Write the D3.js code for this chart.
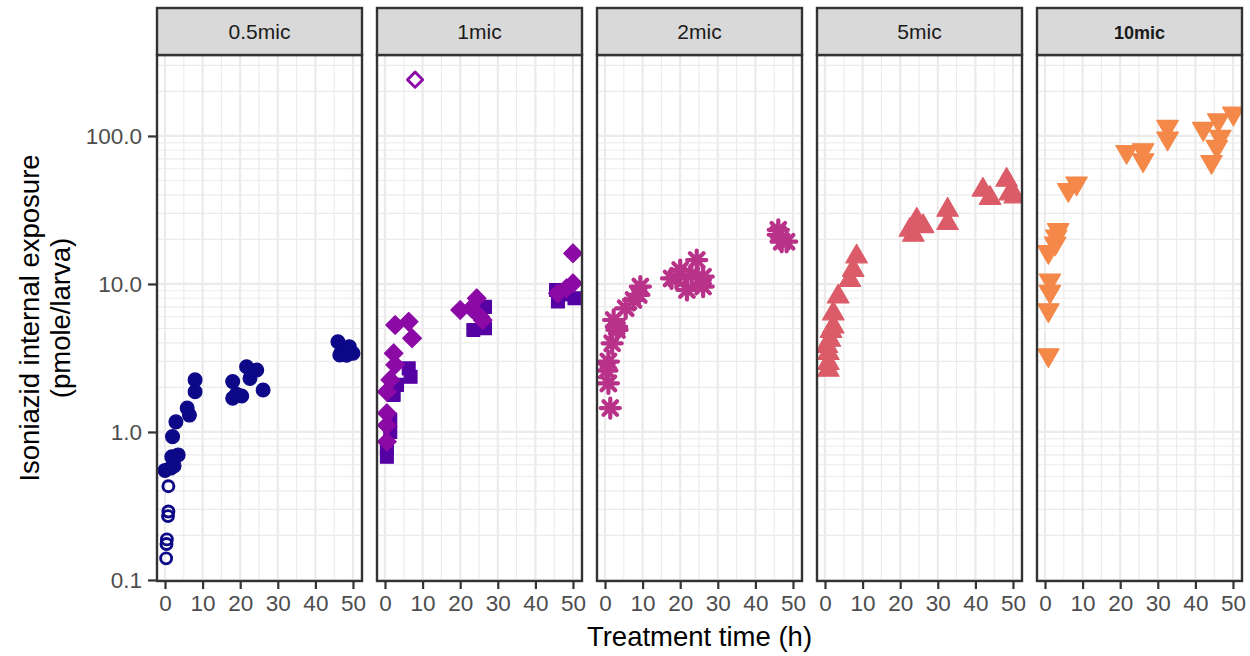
<!DOCTYPE html>
<html>
<head>
<meta charset="utf-8">
<script src="https://cdn.jsdelivr.net/npm/d3@7"></script>
<style>
  body { margin: 0; background: #fff; }
  svg text { font-family: "Liberation Sans", Arial, sans-serif; }
</style>
</head>
<body>
<svg width="1250" height="656"></svg>
<script>
"use strict";
// facet labels and axis ticks
var panelNames = ["0.5mic", "1mic", "2mic", "5mic", "10mic"];
var xTicks = [0, 10, 20, 30, 40, 50];
var yTicks = [0.1, 1, 10, 100];
var yTickLabels = ["0.1", "1.0", "10.0", "100.0"];

// 0.5 mic, circles (open = low values)
var mic05LowTime = [0.3, 0.4, 0.5, 0.8, 0.9, 0.9];
var mic05LowValue = [0.14, 0.175, 0.188, 0.27, 0.29, 0.43];
var mic05Time = [0, 1.5, 2.4, 1.8, 3.5, 2, 2.9, 5.9, 6.5, 8, 8, 18, 18, 19, 20.4, 21.7, 22.6, 24.4, 26.1, 46, 46.5, 47, 48, 48.3, 49, 50];
var mic05Value = [0.55, 0.57, 0.59, 0.68, 0.70, 0.93, 1.17, 1.45, 1.30, 2.25, 1.87, 2.19, 1.69, 1.80, 1.75, 2.76, 2.30, 2.62, 1.92, 4.07, 3.31, 3.50, 3.60, 3.30, 3.77, 3.40];

// 1 mic, squares and diamonds
var mic1SqTime = [0.5, 0.5, 1.4, 1.4, 2.3, 3.2, 6.3, 6.8, 23.5, 26.6, 26.6, 45.5, 46, 48, 50.4];
var mic1SqValue = [0.68, 0.78, 1.0, 1.21, 1.78, 2.08, 2.69, 2.36, 4.89, 5.02, 7.0, 9.1, 7.6, 8.5, 8.0];
var mic1DiaTime = [0.5, 0.5, 0.5, 0.5, 1.4, 2.3, 2.7, 2.7, 6.3, 7.2, 20, 23, 24.4, 25.3, 26, 46, 48.3, 50, 50];
var mic1DiaValue = [0.86, 1.11, 1.34, 1.87, 2.25, 3.40, 2.84, 5.28, 5.56, 4.30, 6.67, 6.85, 8.0, 6.01, 5.7, 8.65, 9.35, 10.1, 16.1];
var mic1OpenTime = [8];
var mic1OpenValue = [240];

// 2 mic, asterisks
var mic2Time = [1.4, 0.9, 0.9, 0.5, 1.9, 3.2, 3.1, 2.3, 5.5, 7.6, 9, 9.4, 17.7, 19, 20, 21.8, 23, 24.4, 26.1, 26.1, 46.1, 47, 48.3, 46.1];
var mic2Value = [1.45, 2.13, 2.99, 2.6, 3.97, 4.89, 5.14, 5.71, 6.85, 7.8, 8.43, 9.6, 10.9, 10.9, 12.4, 9.1, 11.5, 14.5, 11.2, 9.6, 23.2, 19.3, 19.3, 21.5];

// 5 mic, triangles
var mic5Time = [0.5, 0.9, 0.9, 0.9, 1.3, 1.6, 2.2, 2.2, 3.5, 6.6, 7.5, 8.4, 22.6, 23.5, 24.4, 26.1, 32.6, 32.6, 42, 43.9, 48.3, 49.2, 50.5];
var mic5Value = [3.8, 2.62, 2.91, 3.40, 4.18, 4.8, 5.14, 6.3, 8.2, 10.6, 12.4, 15.3, 23.2, 21.4, 27.1, 24.5, 31.6, 25.7, 43.2, 38, 50.4, 40.8, 38.9];

// 10 mic, down triangles
var mic10Time = [0.9, 0.9, 1.3, 1.3, 0.9, 2.7, 3.5, 3.0, 6.2, 8.4, 21.7, 26.1, 26.1, 32.6, 32.6, 42.1, 45.7, 44.3, 46.1, 50.1, 46.6];
var mic10Value = [3.31, 6.67, 8.87, 10.6, 16.5, 18.8, 23.2, 21.0, 43.2, 47.9, 78.3, 80.4, 68.8, 115.6, 96.4, 112, 84.7, 67, 128, 142, 98.9];

var series = [
  { panel: 0, shape: "circle", filled: false, color: "#0D0887", t: mic05LowTime, v: mic05LowValue },
  { panel: 0, shape: "circle", filled: true, color: "#0D0887", t: mic05Time, v: mic05Value },
  { panel: 1, shape: "square", filled: true, color: "#5402A3", t: mic1SqTime, v: mic1SqValue },
  { panel: 1, shape: "diamond", filled: true, color: "#8B0AA5", t: mic1DiaTime, v: mic1DiaValue },
  { panel: 1, shape: "diamond", filled: false, color: "#8B0AA5", t: mic1OpenTime, v: mic1OpenValue },
  { panel: 2, shape: "asterisk", filled: false, color: "#B93289", t: mic2Time, v: mic2Value },
  { panel: 3, shape: "triangle", filled: true, color: "#DB5C68", t: mic5Time, v: mic5Value },
  { panel: 4, shape: "triangleDown", filled: true, color: "#F48849", t: mic10Time, v: mic10Value }
];

var svg = d3.select("svg");
var panelLeft = 157, panelW = 205, panelGap = 15;
var panelTop = 55, panelBottom = 581, stripTop = 8;
var borderCol = "#333333";

var y = d3.scaleLog()
  .domain([Math.pow(10, -1.007), Math.pow(10, 2.547)])
  .range([panelBottom, panelTop]);

// minor y lines at k * 10^n
var yMinor = [];
[0.1, 1, 10, 100].forEach(function (d) {
  for (var k = 2; k <= 9; k++) {
    var v = d * k;
    if (v < y.domain()[1]) yMinor.push(v);
  }
});
var xMinor = [5, 15, 25, 35, 45];

function shapePath(shape, filled) {
  if (shape === "circle") return filled ? d3.symbol(d3.symbolCircle, 150)() : d3.symbol(d3.symbolCircle, 95)();
  if (shape === "square") return d3.symbol(d3.symbolSquare, 165)();
  if (shape === "diamond") return filled ? "M0,-9.3L9.3,0L0,9.3L-9.3,0Z" : "M0,-7.6L7.6,0L0,7.6L-7.6,0Z";
  if (shape === "triangle") return d3.symbol(d3.symbolTriangle, 200)();
  if (shape === "triangleDown") return d3.symbol(d3.symbolTriangle, 200)();
  var r = 9.6, q = r * 0.7071;
  return "M" + (-r) + ",0L" + r + ",0M0," + (-r) + "L0," + r +
    "M" + (-q) + "," + (-q) + "L" + q + "," + q + "M" + (-q) + "," + q + "L" + q + "," + (-q);
}

var defs = svg.append("defs");

panelNames.forEach(function (name, i) {
  var px = panelLeft + i * (panelW + panelGap);
  var x = d3.scaleLinear().domain([-2.13, 52.4]).range([px, px + panelW]);
  var g = svg.append("g");

  defs.append("clipPath").attr("id", "clip" + i)
    .append("rect").attr("x", px).attr("y", panelTop)
    .attr("width", panelW).attr("height", panelBottom - panelTop);

  g.append("rect").attr("x", px).attr("y", panelTop)
    .attr("width", panelW).attr("height", panelBottom - panelTop)
    .attr("fill", "#fff");

  // grid
  var grid = g.append("g").attr("clip-path", "url(#clip" + i + ")");
  grid.selectAll(".ymin").data(yMinor).enter().append("line")
    .attr("x1", px).attr("x2", px + panelW)
    .attr("y1", function (d) { return y(d); }).attr("y2", function (d) { return y(d); })
    .attr("stroke", "#EBEBEB").attr("stroke-width", 1.1);
  grid.selectAll(".xmin").data(xMinor).enter().append("line")
    .attr("y1", panelTop).attr("y2", panelBottom)
    .attr("x1", function (d) { return x(d); }).attr("x2", function (d) { return x(d); })
    .attr("stroke", "#EBEBEB").attr("stroke-width", 1.1);
  grid.selectAll(".ymaj").data(yTicks).enter().append("line")
    .attr("x1", px).attr("x2", px + panelW)
    .attr("y1", function (d) { return y(d); }).attr("y2", function (d) { return y(d); })
    .attr("stroke", "#EBEBEB").attr("stroke-width", 2.2);
  grid.selectAll(".xmaj").data(xTicks).enter().append("line")
    .attr("y1", panelTop).attr("y2", panelBottom)
    .attr("x1", function (d) { return x(d); }).attr("x2", function (d) { return x(d); })
    .attr("stroke", "#EBEBEB").attr("stroke-width", 2.2);

  // points
  var pts = g.append("g").attr("clip-path", "url(#clip" + i + ")");
  series.filter(function (s) { return s.panel === i; }).forEach(function (s) {
    var d = shapePath(s.shape, s.filled);
    var rot = s.shape === "triangleDown" ? " rotate(180)" : "";
    pts.selectAll(null).data(d3.range(s.t.length)).enter().append("path")
      .attr("d", d)
      .attr("transform", function (k) { return "translate(" + x(s.t[k]) + "," + y(s.v[k]) + ")" + rot; })
      .attr("fill", s.filled ? s.color : "none")
      .attr("stroke", s.color)
      .attr("stroke-width", s.shape === "asterisk" ? 4.2 : (s.filled ? 1.2 : 2.9))
      .attr("stroke-linecap", "round")
      .attr("stroke-linejoin", "round");
  });

  g.append("rect").attr("x", px).attr("y", panelTop)
    .attr("width", panelW).attr("height", panelBottom - panelTop)
    .attr("fill", "none").attr("stroke", borderCol).attr("stroke-width", 2.4);

  // strip
  g.append("rect").attr("x", px).attr("y", stripTop)
    .attr("width", panelW).attr("height", panelTop - stripTop)
    .attr("fill", "#D9D9D9").attr("stroke", borderCol).attr("stroke-width", 2.4);
  g.append("text").attr("x", px + panelW / 2).attr("y", (stripTop + panelTop) / 2 + 7.5)
    .attr("text-anchor", "middle")
    .attr("font-size", name === "10mic" ? 18 : 21)
    .attr("font-weight", name === "10mic" ? "bold" : "normal")
    .attr("fill", "#1A1A1A")
    .text(name);

  // x axis
  var xAxis = g.append("g").attr("transform", "translate(0," + (panelBottom + 1) + ")")
    .call(d3.axisBottom(x).tickValues(xTicks).tickSize(7).tickPadding(6).tickSizeOuter(0));
  xAxis.select(".domain").remove();
  xAxis.selectAll("line").attr("stroke", borderCol).attr("stroke-width", 2.2);
  xAxis.selectAll("text").attr("font-size", 22.5).attr("fill", "#4D4D4D")
    .attr("font-family", "Liberation Sans, Arial, sans-serif");
});

// y axis
var yAxis = svg.append("g").attr("transform", "translate(" + (panelLeft - 1) + ",0)")
  .call(d3.axisLeft(y).tickValues(yTicks).tickSize(8).tickPadding(6).tickSizeOuter(0)
    .tickFormat(function (d, k) { return yTickLabels[k]; }));
yAxis.select(".domain").remove();
yAxis.selectAll("line").attr("stroke", borderCol).attr("stroke-width", 2.2);
yAxis.selectAll("text").attr("font-size", 22.5).attr("fill", "#4D4D4D")
  .attr("font-family", "Liberation Sans, Arial, sans-serif");

// axis titles
svg.append("text").attr("x", panelLeft + (5 * panelW + 4 * panelGap) / 2).attr("y", 646)
  .attr("text-anchor", "middle").attr("font-size", 27.5).attr("fill", "#000")
  .text("Treatment time (h)");
var yTitle = svg.append("g")
  .attr("transform", "translate(0," + ((panelTop + panelBottom) / 2) + ") rotate(-90)");
yTitle.append("text").attr("x", 0).attr("y", 39)
  .attr("text-anchor", "middle").attr("font-size", 27.5).attr("fill", "#000")
  .text("Isoniazid internal exposure");
yTitle.append("text").attr("x", 0).attr("y", 70)
  .attr("text-anchor", "middle").attr("font-size", 27.5).attr("fill", "#000")
  .text("(pmole/larva)");
</script>
</body>
</html>
